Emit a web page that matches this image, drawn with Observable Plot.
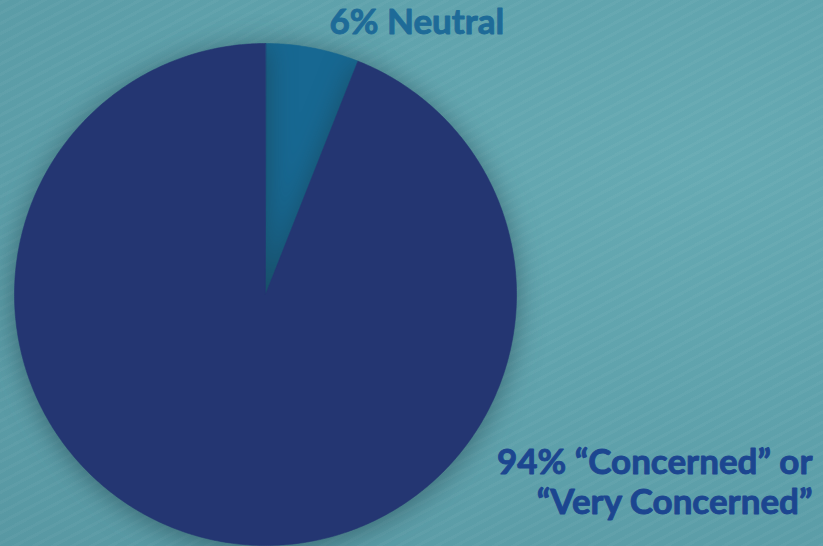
<!DOCTYPE html>
<html>
<head>
<meta charset="utf-8">
<script src="https://cdn.jsdelivr.net/npm/d3@7"></script>
<script src="https://cdn.jsdelivr.net/npm/@observablehq/plot@0.6"></script>
<style>
  html, body { margin: 0; padding: 0; overflow: hidden; }
  body {
    width: 823px; height: 546px;
    background:
      repeating-linear-gradient(-28deg, rgba(255,255,255,0.03) 0 3px, rgba(0,0,0,0) 3px 9px),
      radial-gradient(ellipse at 85% 30%, #66aab3 0%, #5fa2ac 45%, #5898a3 100%);
  }
  #chart svg .slices path { filter: drop-shadow(0 3px 14px rgba(25, 55, 65, 0.55)); }
</style>
</head>
<body>
<div id="chart"></div>
<script>
// ---- data ----
const categories = ["Neutral", "Concerned or Very Concerned"];
const shares = [6, 94];
const neutralLabel = "6% Neutral";
const concernedLines = ["94% \u201CConcerned\u201D or", "\u201CVery Concerned\u201D"];
const sliceColors = ["#176892", "#243672"];

// ---- geometry from data (d3.pie angles) ----
const arcs = d3.pie().sort(null)(shares);
const points = [];
arcs.forEach((a, i) => {
  const key = categories[i];
  points.push({key, x: 0, y: 0});
  const n = Math.max(2, Math.ceil((a.endAngle - a.startAngle) / (Math.PI / 360)));
  for (let k = 0; k <= n; k++) {
    const t = a.startAngle + (a.endAngle - a.startAngle) * k / n;
    points.push({key, x: Math.sin(t), y: Math.cos(t)});
  }
});

const W = 823, H = 546, cx = 265, cy = 294, R = 251;
const font = {fontFamily: "Lato", fontWeight: "bold", fontSize: 35, strokeWidth: 0.9};

const chart = Plot.plot({
  width: W, height: H,
  margin: 0,
  style: {background: "transparent", overflow: "visible"},
  x: {domain: [-cx / R, (W - cx) / R], axis: null},
  y: {domain: [-(H - cy) / R, cy / R], axis: null},
  color: {domain: categories, range: sliceColors},
  marks: [
    Plot.line(points, {
      x: "x", y: "y", z: "key",
      fill: "key", stroke: "key", strokeWidth: 0.6,
      curve: "linear-closed",
      className: "slices"
    }),
    Plot.text([neutralLabel], {
      text: d => d,
      frameAnchor: "top-left", dx: 329, dy: 33,
      lineAnchor: "bottom", textAnchor: "start",
      fill: "#1e6b98", stroke: "#1e6b98", ...font
    }),
    Plot.text([concernedLines[0]], {
      text: d => d,
      frameAnchor: "top-right", dx: -11, dy: 473,
      lineAnchor: "bottom", textAnchor: "end",
      fill: "#1c4690", stroke: "#1c4690", ...font
    }),
    Plot.text([concernedLines[1]], {
      text: d => d,
      frameAnchor: "top-right", dx: -11, dy: 513,
      lineAnchor: "bottom", textAnchor: "end",
      fill: "#1c4690", stroke: "#1c4690", ...font
    })
  ]
});
document.getElementById("chart").appendChild(chart);
</script>
</body>
</html>
